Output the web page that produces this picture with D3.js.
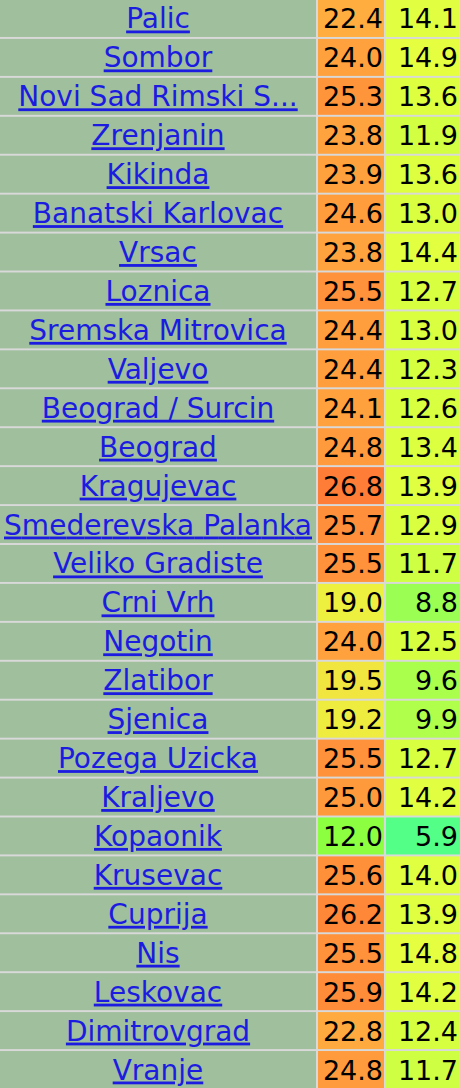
<!DOCTYPE html>
<html><head><meta charset="utf-8">
<script src="https://cdn.jsdelivr.net/npm/d3@7"></script>
<style>body{margin:0;background:#d9d9d9;overflow:hidden}</style>
</head><body><svg id="chart"></svg>
<script>
const stations = ["Palic","Sombor","Novi Sad Rimski S...","Zrenjanin","Kikinda","Banatski Karlovac","Vrsac","Loznica","Sremska Mitrovica","Valjevo","Beograd / Surcin","Beograd","Kragujevac","Smederevska Palanka","Veliko Gradiste","Crni Vrh","Negotin","Zlatibor","Sjenica","Pozega Uzicka","Kraljevo","Kopaonik","Krusevac","Cuprija","Nis","Leskovac","Dimitrovgrad","Vranje"];
const maxTemp = [22.4,24.0,25.3,23.8,23.9,24.6,23.8,25.5,24.4,24.4,24.1,24.8,26.8,25.7,25.5,19.0,24.0,19.5,19.2,25.5,25.0,12.0,25.6,26.2,25.5,25.9,22.8,24.8];
const minTemp = [14.1,14.9,13.6,11.9,13.6,13.0,14.4,12.7,13.0,12.3,12.6,13.4,13.9,12.9,11.7,8.8,12.5,9.6,9.9,12.7,14.2,5.9,14.0,13.9,14.8,14.2,12.4,11.7];

const width = 460, height = 1088;
const svg = d3.select("#chart").attr("width", width).attr("height", height);

// colour ramps like the source site
const colorMax = d3.scaleLinear()
  .domain([12, 19, 22, 25, 27])
  .range(["#8cff40", "#eef040", "#ffb040", "#ff9a3c", "#ff7a35"])
  .clamp(true);
const colorMin = d3.scaleLinear()
  .domain([5, 9, 12, 15])
  .range(["#3cff96", "#a0ff50", "#d4ff40", "#e6ff40"])
  .clamp(true);

const y = d3.scaleBand().domain(d3.range(stations.length)).range([0, height]).paddingInner(0.05).paddingOuter(0);
const cols = [{x: 0, w: 316}, {x: 318, w: 66}, {x: 386, w: 74}];

const rows = svg.selectAll("g.row").data(stations).join("g")
  .attr("class", "row")
  .attr("transform", (d, i) => `translate(0,${y(i)})`);

const h = y.bandwidth();
const font = "Verdana, 'DejaVu Sans', sans-serif";

rows.append("rect").attr("x", cols[0].x).attr("width", cols[0].w).attr("height", h).attr("fill", "#9fbf9d");
rows.append("rect").attr("x", cols[1].x).attr("width", cols[1].w).attr("height", h).attr("fill", (d, i) => colorMax(maxTemp[i]));
rows.append("rect").attr("x", cols[2].x).attr("width", cols[2].w).attr("height", h).attr("fill", (d, i) => colorMin(minTemp[i]));

rows.append("text")
  .attr("x", cols[0].w / 2).attr("y", h / 2 + 10)
  .attr("text-anchor", "middle")
  .attr("font-family", font).attr("font-size", 28)
  .attr("fill", "#1c1ce0").attr("text-decoration", "underline")
  .attr("textLength", d => d === "Smederevska Palanka" ? 308 : null)
  .text(d => d);

rows.append("text")
  .attr("x", cols[1].x + cols[1].w - 1).attr("y", h / 2 + 10)
  .attr("text-anchor", "end")
  .attr("font-family", font).attr("font-size", 27).attr("fill", "#000")
  .text((d, i) => maxTemp[i].toFixed(1));

rows.append("text")
  .attr("x", cols[2].x + cols[2].w - 2).attr("y", h / 2 + 10)
  .attr("text-anchor", "end")
  .attr("font-family", font).attr("font-size", 27).attr("fill", "#000")
  .text((d, i) => minTemp[i].toFixed(1));
</script></body></html>
